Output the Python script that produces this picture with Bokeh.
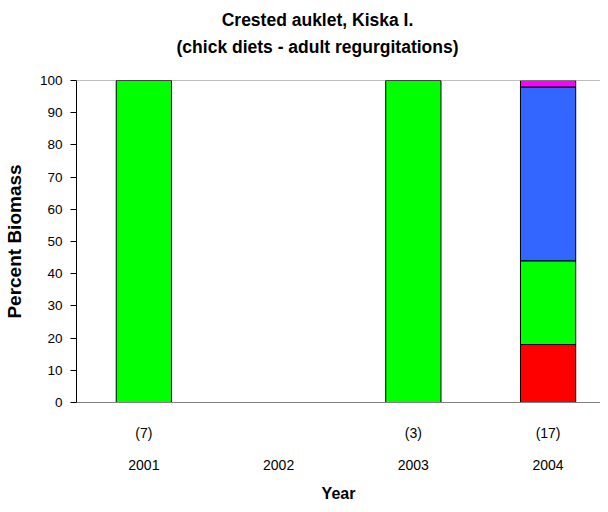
from bokeh.plotting import figure
from bokeh.models import ColumnDataSource, FixedTicker, LinearAxis, Span, Title, Range1d
from bokeh.embed import file_html
from bokeh.resources import INLINE

# ---- data ----
years = ["2001", "2002", "2003", "2004"]
sample_sizes = ["(7)", "", "(3)", "(17)"]
nan = float("nan")
prey_red = [0, nan, 0, 18]
prey_green = [100, nan, 100, 26]
prey_blue = [0, nan, 0, 54]
prey_magenta = [0, nan, 0, 2]
y_ticks = [0, 10, 20, 30, 40, 50, 60, 70, 80, 90, 100]
title_line1 = "Crested auklet, Kiska I."
title_line2 = "(chick diets - adult regurgitations)"

FONT = "Liberation Sans"
xpos = list(range(1, len(years) + 1))

src = ColumnDataSource(dict(x=xpos, red=prey_red, green=prey_green,
                            blue=prey_blue, magenta=prey_magenta))

p = figure(width=600, height=504, output_backend="svg", toolbar_location=None,
           x_range=Range1d(0.5, 4.389), y_range=Range1d(0, 100),
           x_axis_location=None, y_axis_location=None,
           min_border_left=75, min_border_right=0, min_border_top=80,
           min_border_bottom=98)
p.outline_line_color = None
p.xgrid.visible = False
p.ygrid.visible = False

p.vbar_stack(["red", "green", "blue", "magenta"], x="x", width=0.41, source=src,
             fill_color=["#FF0000", "#00FF00", "#3366FF", "#FF00FF"],
             line_color="black", line_width=1)

p.add_layout(Span(location=100, dimension="width", line_color="#808080", line_width=1))

yax = LinearAxis(ticker=FixedTicker(ticks=y_ticks), axis_label="Percent Biomass")
yax.major_tick_out = 6
yax.major_tick_in = 0
yax.minor_tick_line_color = None
yax.axis_line_color = "black"
yax.major_tick_line_color = "black"
yax.major_label_text_font = FONT
yax.major_label_text_font_size = "13.5px"
yax.major_label_text_color = "black"
yax.major_label_standoff = 8
yax.axis_label_text_font = FONT
yax.axis_label_text_font_size = "19px"
yax.axis_label_text_font_style = "bold"
yax.axis_label_text_color = "black"
yax.axis_label_standoff = 12
p.add_layout(yax, "left")

xax1 = LinearAxis(ticker=FixedTicker(ticks=xpos),
                  major_label_overrides={x: s for x, s in zip(xpos, sample_sizes)})
xax1.major_tick_line_color = None
xax1.minor_tick_line_color = None
xax1.axis_line_color = "#808080"
xax1.major_label_text_font = FONT
xax1.major_label_text_font_size = "14px"
xax1.major_label_text_color = "black"
xax1.major_label_standoff = 16
p.add_layout(xax1, "below")

xax2 = LinearAxis(ticker=FixedTicker(ticks=xpos),
                  major_label_overrides={x: s for x, s in zip(xpos, years)},
                  axis_label="Year")
xax2.major_tick_line_color = None
xax2.minor_tick_line_color = None
xax2.axis_line_color = None
xax2.major_label_text_font = FONT
xax2.major_label_text_font_size = "14px"
xax2.major_label_text_color = "black"
xax2.major_label_standoff = 10
xax2.axis_label_text_font = FONT
xax2.axis_label_text_font_size = "16px"
xax2.axis_label_text_font_style = "bold"
xax2.axis_label_text_color = "black"
xax2.axis_label_standoff = 12
p.add_layout(xax2, "below")

# Two title lines, each left-aligned with an offset that centres it near x=316
FS = 17.5
w1 = 10.95 * FS   # Arial/Liberation bold advance widths
w2 = 16.11 * FS
centre = 316 - 75

# spacer closest to the frame
p.add_layout(Title(text=" ", text_font_size="1px", standoff=17), "above")
p.add_layout(Title(text=title_line2, align="left", offset=centre - w2 / 2,
                   text_font=FONT, text_font_size=f"{FS}px", text_font_style="bold",
                   text_color="black", standoff=8), "above")
p.title.text = title_line1
p.title.align = "left"
p.title.offset = centre - w1 / 2
p.title.text_font = FONT
p.title.text_font_size = f"{FS}px"
p.title.text_font_style = "bold"
p.title.text_color = "black"
p.title.standoff = 2

open("out.html", "w").write(file_html(p, INLINE))
